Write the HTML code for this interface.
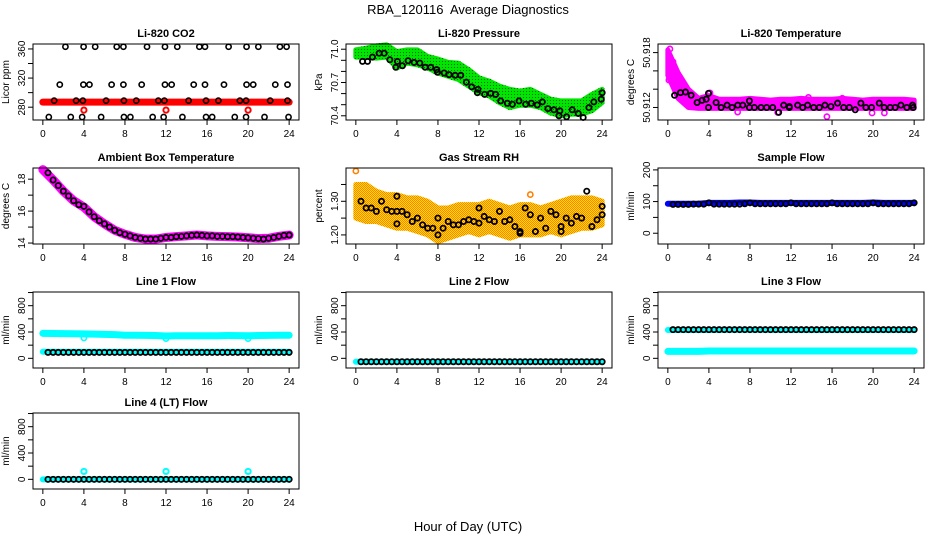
<!DOCTYPE html>
<html><head><meta charset="utf-8"><style>
html,body{margin:0;padding:0;background:#fff;}
svg{display:block;font-family:"Liberation Sans",sans-serif;}
</style></head><body>
<svg id="chart" width="936" height="540" viewBox="0 0 936 540" xmlns="http://www.w3.org/2000/svg">
<defs>
<pattern id="pGreen" width="3" height="3" patternUnits="userSpaceOnUse"><rect width="3" height="3" fill="#00e600"/><rect x="1" y="1" width="1" height="1" fill="#006600"/></pattern>
<pattern id="pOrange" width="2" height="2" patternUnits="userSpaceOnUse"><rect width="2" height="2" fill="#ffe000"/><rect width="1" height="1" fill="#ff8000"/><rect x="1" y="1" width="1" height="1" fill="#ff8000"/></pattern>
</defs>
<text x="468" y="14" text-anchor="middle" font-size="13">RBA_120116&#160; Average Diagnostics</text>
<text x="468" y="531" text-anchor="middle" font-size="13">Hour of Day (UTC)</text>
</svg>
<script>
// ---------- data ----------
const hours = [0,1,2,3,4,5,6,7,8,9,10,11,12,13,14,15,16,17,18,19,20,21,22,23,24];
const halfHours = [0.5,1,1.5,2,2.5,3,3.5,4,4.5,5,5.5,6,6.5,7,7.5,8,8.5,9,9.5,10,10.5,11,11.5,12,12.5,13,13.5,14,14.5,15,15.5,16,16.5,17,17.5,18,18.5,19,19.5,20,20.5,21,21.5,22,22.5,23,23.5,24];

// CO2
const co2BandVals = [287,287,287,287,287,287,287,287,287,287,287,287,287,287,287,287,287,287,287,287,287,287,287,287,287];
const co2TopX = [2.2,3.97,5.1,7.2,7.85,10.15,11.9,13.1,15.25,15.8,18.1,19.85,21,23.1,23.75];
const co2TopV = [363,363,363,363,363,363,363,363,363,363,363,363,363,363,363];
const co2MidX = [1.65,3.95,4.54,6.7,7.85,9.63,11.9,12.55,14.7,15.8,17.65,19.85,20.5,22.65,23.84];
const co2MidV = [311,311,311,311,311,311,311,311,311,311,311,311,311,311,311];
const co2LowX = [1.1,3.24,3.9,6.16,7.9,9.1,11.25,11.84,14.2,15.9,17.1,19.2,19.8,22.15,23.84];
const co2LowV = [289,289,289,289,289,289,289,289,289,289,289,289,289,289,289];
const co2BotX = [0.58,2.72,3.83,5.68,7.9,8.53,10.7,11.77,13.6,15.9,16.5,18.7,19.8,21.6,23.94];
const co2BotV = [266.5,266.5,266.5,266.5,266.5,266.5,266.5,266.5,266.5,266.5,266.5,266.5,266.5,266.5,266.5];
const co2RedX = [4,12,20];
const co2RedV = [276,276,276];

// Pressure
const presUpper = [70.994,71.009,71.030,71.039,70.979,70.994,70.994,70.935,70.911,70.881,70.875,70.816,70.742,70.712,70.667,70.638,70.623,70.638,70.593,70.549,70.534,70.534,70.534,70.593,70.638];
const presLower = [70.929,70.929,70.920,70.929,70.831,70.875,70.860,70.831,70.786,70.756,70.727,70.667,70.608,70.578,70.519,70.474,70.495,70.495,70.474,70.424,70.400,70.415,70.415,70.445,70.519];
const presX = [0.65,1.14,1.62,2.27,2.76,3.31,3.89,4.05,4.54,5.09,5.68,6.23,6.75,7.30,7.88,7.95,8.60,9.08,9.67,10.22,10.77,11.29,11.84,11.90,12.55,13.14,13.62,14.11,14.76,15.25,15.90,16.55,17.10,17.68,18.17,18.72,19.30,19.79,19.88,20.53,21.08,21.67,22.15,22.71,23.19,23.91,24.0];
const presV = [70.890,70.890,70.929,70.964,70.964,70.905,70.837,70.890,70.851,70.896,70.881,70.875,70.837,70.837,70.816,70.792,70.786,70.771,70.765,70.765,70.703,70.661,70.608,70.638,70.593,70.602,70.593,70.534,70.513,70.504,70.534,70.504,70.513,70.498,70.525,70.465,70.454,70.400,70.445,70.391,70.454,70.421,70.385,70.474,70.525,70.549,70.608];

// Li-820 temperature
const tempUpper = [50.9183,50.9158,50.9140,50.9130,50.9133,50.9129,50.9129,50.9129,50.9130,50.9129,50.9128,50.9129,50.9129,50.9130,50.9129,50.9129,50.9129,50.9130,50.9129,50.9128,50.9129,50.9129,50.9129,50.9129,50.9128];
const tempLower = [50.9155,50.9130,50.9120,50.9119,50.9119,50.9119,50.9119,50.9119,50.9119,50.9119,50.9119,50.9119,50.9119,50.9119,50.9119,50.9119,50.9119,50.9119,50.9119,50.9119,50.9119,50.9119,50.9119,50.9119,50.9119];
const tempOutX = [4.1,6.8,10.7,15.5,19.9,21.1,0.2,0.5,13.7,17.0,0.1];
const tempOutV = [50.9136,50.9115,50.91146,50.9110,50.9114,50.9114,50.9184,50.9170,50.9131,50.9130,50.9150];
const tempX = [0.65,1.23,1.72,2.27,2.85,3.34,3.73,3.96,3.96,4.70,5.19,5.77,6.26,6.81,7.30,7.95,7.95,8.43,9.08,9.63,10.22,10.80,11.29,11.84,11.84,12.65,13.14,13.62,14.21,14.76,15.31,15.89,16.54,17.13,17.68,18.26,18.81,19.30,19.85,20.60,21.08,21.67,22.15,22.71,23.29,23.84,23.9];
const tempV = [50.91333,50.91362,50.91369,50.91333,50.91254,50.91279,50.91290,50.91354,50.91200,50.91254,50.91200,50.91225,50.91200,50.91225,50.91225,50.91272,50.91200,50.91200,50.91200,50.91200,50.91200,50.91146,50.91225,50.91211,50.91200,50.91225,50.91200,50.91225,50.91200,50.91200,50.91225,50.91211,50.91247,50.91200,50.91200,50.91175,50.91247,50.91200,50.91200,50.91247,50.91200,50.91200,50.91200,50.91225,50.91200,50.91225,50.91200];

// Ambient
const ambBand = [18.6,17.95,17.25,16.65,16.25,15.65,15.2,14.8,14.55,14.35,14.25,14.25,14.35,14.4,14.45,14.5,14.45,14.42,14.4,14.38,14.33,14.28,14.3,14.42,14.5];
const ambV = [18.4,17.95,17.6,17.25,16.95,16.65,16.4,16.3,15.95,15.65,15.4,15.2,15.0,14.8,14.65,14.55,14.45,14.35,14.3,14.25,14.25,14.25,14.3,14.35,14.35,14.4,14.42,14.45,14.48,14.5,14.48,14.45,14.45,14.42,14.42,14.4,14.4,14.38,14.35,14.33,14.3,14.28,14.25,14.3,14.35,14.42,14.48,14.5];

// RH
const rhUpper = [1.35,1.35,1.33,1.32,1.32,1.31,1.31,1.30,1.28,1.28,1.29,1.29,1.29,1.30,1.29,1.28,1.29,1.29,1.28,1.29,1.30,1.31,1.31,1.31,1.30];
const rhLower = [1.25,1.24,1.24,1.23,1.22,1.22,1.21,1.20,1.18,1.19,1.20,1.21,1.20,1.21,1.20,1.19,1.20,1.20,1.20,1.21,1.20,1.21,1.22,1.22,1.23];
const rhV = [1.30,1.28,1.28,1.27,1.30,1.275,1.27,1.27,1.27,1.26,1.24,1.25,1.23,1.22,1.22,1.25,1.22,1.24,1.23,1.23,1.24,1.245,1.24,1.28,1.255,1.245,1.24,1.27,1.24,1.245,1.225,1.21,1.28,1.26,1.21,1.25,1.22,1.27,1.26,1.21,1.25,1.235,1.255,1.25,1.33,1.225,1.245,1.26];
const rhExtraX = [4,4,8,12,16,20,24];
const rhExtraV = [1.315,1.233,1.20,1.235,1.205,1.225,1.285];
const rhOutX = [0,17];
const rhOutV = [1.39,1.32];

// Sample flow
const sampBand = [93,93,93,93,96,96,96,97,97,96,96,96,96,96,96,96,96,96,96,96,97,96,96,96,96];
const sampV = [91,91,91,91,92,92,92,96,92,92,92,92,92,92,93,96,93,93,93,93,93,93,93,96,93,93,93,93,93,93,93,96,93,93,93,93,93,93,93,96,93,93,93,93,93,93,93,96];

// Line 1
const l1Upper = [380,378,376,374,372,368,364,360,350,350,348,346,340,344,344,343,343,344,346,345,344,346,348,350,350];
const l1Lower = [100,100,100,100,100,100,100,100,100,100,100,100,100,100,100,100,100,100,100,100,100,100,100,100,100];
const l1DipX = [4,12,20];
const l1DipV = [310,300,300];
const l1Black = [90,90,90,90,90,90,90,90,90,90,90,90,90,90,90,90,90,90,90,90,90,90,90,90,90,90,90,90,90,90,90,90,90,90,90,90,90,90,90,90,90,90,90,90,90,90,90,90];

// Line 2
const l2Band = [-52,-52,-52,-52,-52,-52,-52,-52,-52,-52,-52,-52,-52,-52,-52,-52,-52,-52,-52,-52,-52,-52,-52,-52,-52];
const l2Black = [-52,-52,-52,-52,-52,-52,-52,-52,-52,-52,-52,-52,-52,-52,-52,-52,-52,-52,-52,-52,-52,-52,-52,-52,-52,-52,-52,-52,-52,-52,-52,-52,-52,-52,-52,-52,-52,-52,-52,-52,-52,-52,-52,-52,-52,-52,-52,-52];

// Line 3
const l3Upper = [430,430,430,430,430,432,434,435,435,434,433,432,432,430,430,430,430,430,430,430,430,430,430,430,430];
const l3Lower = [105,105,105,105,112,112,112,112,112,112,112,112,112,112,112,112,112,112,112,112,112,112,112,112,112];
const l3Black = [436,436,436,436,436,436,436,436,436,436,436,436,436,436,436,436,436,436,436,436,436,436,436,436,436,436,436,436,436,436,436,436,436,436,436,436,436,436,436,436,436,436,436,436,436,436,436,436];

// Line 4
const l4Band = [0,0,0,0,0,0,0,0,0,0,0,0,0,0,0,0,0,0,0,0,0,0,0,0,0];
const l4Black = [0,0,0,0,0,0,0,0,0,0,0,0,0,0,0,0,0,0,0,0,0,0,0,0,0,0,0,0,0,0,0,0,0,0,0,0,0,0,0,0,0,0,0,0,0,0,0,0];
const l4OutX = [4,12,20];
const l4OutV = [120,120,120];

const xTicks = [0,4,8,12,16,20,24];

// ---------- drawing ----------
const NS = "http://www.w3.org/2000/svg";
const svg = document.getElementById("chart");
const W = 266, H = 76;
const cols = [33,346,658];
const rows = [44,168,292,413];

function mk(tag, parent) { const e = document.createElementNS(NS, tag); parent.appendChild(e); return e; }

function makePanel(name, col, row, title, ylab, ymin, ymax, ticks, labels) {
  const g = mk("g", svg);
  
  
  const L = cols[col], T = rows[row];
  const p = { g, L, T,
    x: h => L + (h + 0.96) / 25.92 * W,
    y: v => T + H * (ymax - v) / (ymax - ymin) };
  const t = mk("text", g);
  
  
  t.setAttribute("x", L + W / 2); t.setAttribute("y", T - 7);
  t.setAttribute("text-anchor", "middle"); t.setAttribute("font-size", "11"); t.setAttribute("font-weight", "bold");
  t.textContent = title;
  const yl = mk("text", g);
  
  
  yl.setAttribute("transform", `translate(${L - 24},${T + H / 2}) rotate(-90)`);
  yl.setAttribute("text-anchor", "middle"); yl.setAttribute("font-size", "10");
  yl.textContent = ylab;
  xTicks.forEach(h => {
    const ln = mk("line", g);
    
    
    ln.setAttribute("x1", p.x(h)); ln.setAttribute("x2", p.x(h));
    ln.setAttribute("y1", T + H); ln.setAttribute("y2", T + H + 5);
    ln.setAttribute("stroke", "#000");
    const tx = mk("text", g);
    
    
    tx.setAttribute("x", p.x(h)); tx.setAttribute("y", T + H + 17);
    tx.setAttribute("text-anchor", "middle"); tx.setAttribute("font-size", "10");
    tx.textContent = h;
  });
  ticks.forEach(v => {
    const ln = mk("line", g);
    
    
    ln.setAttribute("x1", L - 5); ln.setAttribute("x2", L);
    ln.setAttribute("y1", p.y(v)); ln.setAttribute("y2", p.y(v));
    ln.setAttribute("stroke", "#000");
  });
  labels.forEach(s => {
    const tx = mk("text", g);
    
    
    tx.setAttribute("transform", `translate(${L - 8},${p.y(parseFloat(s))}) rotate(-90)`);
    tx.setAttribute("text-anchor", "middle"); tx.setAttribute("font-size", "10");
    tx.textContent = s;
  });
  return p;
}
function finishBox(p) {
  const r = mk("rect", p.g);
  
  
  r.setAttribute("x", p.L); r.setAttribute("y", p.T); r.setAttribute("width", W); r.setAttribute("height", H);
  r.setAttribute("fill", "none"); r.setAttribute("stroke", "#000");
}
function band(p, xs, up, lo, fill) {
  const pts = xs.map((h, i) => p.x(h) + "," + p.y(up[i])).concat(xs.slice().reverse().map((h, j) => p.x(h) + "," + p.y(lo[xs.length - 1 - j])));
  const pg = mk("polygon", p.g);
  
  
  pg.setAttribute("points", pts.join(" "));
  pg.setAttribute("fill", fill); pg.setAttribute("stroke", fill); pg.setAttribute("stroke-width", "5"); pg.setAttribute("stroke-linejoin", "round");
}
function thick(p, xs, vs, col, w) {
  const pl = mk("polyline", p.g);
  
  
  pl.setAttribute("points", xs.map((h, i) => p.x(h) + "," + p.y(vs[i])).join(" "));
  pl.setAttribute("fill", "none"); pl.setAttribute("stroke", col); pl.setAttribute("stroke-width", w); pl.setAttribute("stroke-linecap", "round");
}
function pts(p, xs, vs, col, sw) {
  xs.forEach((h, i) => {
    const c = mk("circle", p.g);
    
    
    c.setAttribute("cx", p.x(h)); c.setAttribute("cy", p.y(vs[i])); c.setAttribute("r", 2.6);
    c.setAttribute("fill", "none"); c.setAttribute("stroke", col); c.setAttribute("stroke-width", sw || 1.6);
  });
}

const flowTicks = [0,200,400,600,800,1000], flowLabels = ["0","400","800"];

let p = makePanel("panel-co2", 0, 0, "Li-820 CO2", "Licor ppm", 262.4, 366.8, [280,300,320,340,360], ["280","320","360"]);
thick(p, hours, co2BandVals, "#ff0000", 7);
pts(p, co2TopX, co2TopV, "#000"); pts(p, co2MidX, co2MidV, "#000"); pts(p, co2LowX, co2LowV, "#000"); pts(p, co2BotX, co2BotV, "#000");
pts(p, co2RedX, co2RedV, "#ff0000", 2);
finishBox(p);

p = makePanel("panel-pressure", 1, 0, "Li-820 Pressure", "kPa", 70.362, 71.047, [70.4,70.5,70.6,70.7,70.8,70.9,71.0], ["70.4","70.7","71.0"]);
band(p, hours, presUpper, presLower, "url(#pGreen)");
pts(p, presX, presV, "#000", 1.8);
finishBox(p);

p = makePanel("panel-li820-temperature", 2, 0, "Li-820 Temperature", "degrees C", 50.91063, 50.91894, [50.912,50.914,50.916,50.918], ["50.912","50.918"]);
band(p, hours, tempUpper, tempLower, "#ff00ff");
pts(p, tempOutX, tempOutV, "#ff00ff", 1.6);
pts(p, tempX, tempV, "#000", 1.8);
finishBox(p);

p = makePanel("panel-ambient-temperature", 0, 1, "Ambient Box Temperature", "degrees C", 13.94, 18.70, [14,15,16,17,18], ["14","16","18"]);
thick(p, hours, ambBand, "#ff00ff", 9);
pts(p, halfHours, ambV, "#000", 1.8);
finishBox(p);

p = makePanel("panel-gas-rh", 1, 1, "Gas Stream RH", "percent", 1.173, 1.399, [1.20,1.25,1.30,1.35], ["1.20","1.30"]);
band(p, hours, rhUpper, rhLower, "url(#pOrange)");
pts(p, rhOutX, rhOutV, "#ff8000", 1.6);
pts(p, halfHours, rhV, "#000", 1.8);
pts(p, rhExtraX, rhExtraV, "#000", 1.8);
finishBox(p);

p = makePanel("panel-sample-flow", 2, 1, "Sample Flow", "ml/min", -34, 206, [0,50,100,150,200], ["0","100","200"]);
thick(p, hours, sampBand, "#0000ff", 6);
pts(p, halfHours, sampV, "#000", 1.8);
finishBox(p);

p = makePanel("panel-line1-flow", 0, 2, "Line 1 Flow", "ml/min", -147, 1008, flowTicks, flowLabels);
thick(p, hours, l1Upper, "#00ffff", 7);
thick(p, hours, l1Lower, "#00ffff", 6);
pts(p, l1DipX, l1DipV, "#00ffff", 1.6);
pts(p, halfHours, l1Black, "#000", 1.8);
finishBox(p);

p = makePanel("panel-line2-flow", 1, 2, "Line 2 Flow", "ml/min", -147, 1008, flowTicks, flowLabels);
thick(p, hours, l2Band, "#00ffff", 6);
pts(p, halfHours, l2Black, "#000", 1.8);
finishBox(p);

p = makePanel("panel-line3-flow", 2, 2, "Line 3 Flow", "ml/min", -147, 1008, flowTicks, flowLabels);
thick(p, hours, l3Upper, "#00ffff", 6);
thick(p, hours, l3Lower, "#00ffff", 7);
pts(p, halfHours, l3Black, "#000", 1.8);
finishBox(p);

p = makePanel("panel-line4-flow", 0, 3, "Line 4 (LT) Flow", "ml/min", -147, 1008, flowTicks, flowLabels);
thick(p, hours, l4Band, "#00ffff", 6);
pts(p, l4OutX, l4OutV, "#00ffff", 2);
pts(p, halfHours, l4Black, "#000", 1.8);
finishBox(p);
</script>
</body></html>
